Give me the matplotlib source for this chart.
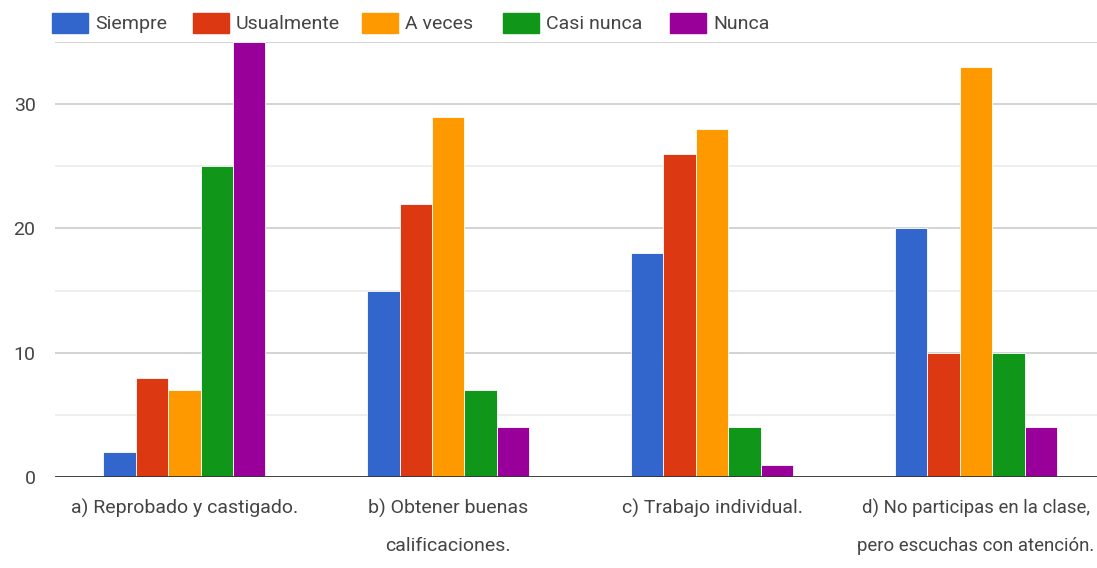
import numpy as np
import matplotlib
matplotlib.use("Agg")
import matplotlib.pyplot as plt
from matplotlib import font_manager
from matplotlib.patches import Rectangle

names = {f.name for f in font_manager.fontManager.ttflist}
font = "Liberation Sans Narrow" if "Liberation Sans Narrow" in names else "Roboto"
plt.rcParams["font.family"] = [font, "DejaVu Sans"]

categories = ["a) Reprobado y castigado.", "b) Obtener buenas\ncalificaciones.",
              "c) Trabajo individual.", "d) No participas en la clase,\npero escuchas con atención."]
series = ["Siempre", "Usualmente", "A veces", "Casi nunca", "Nunca"]
siempre = [2, 15, 18, 20]
usualmente = [8, 22, 26, 10]
a_veces = [7, 29, 28, 33]
casi_nunca = [25, 7, 4, 10]
nunca = [35, 4, 1, 4]
values = [siempre, usualmente, a_veces, casi_nunca, nunca]
colors = ["#3366cc", "#dc3912", "#ff9900", "#109618", "#990099"]

fig = plt.figure(figsize=(10.97, 5.68), dpi=100)
ax = fig.add_axes([55 / 1097, 91 / 568, 1053 / 1097, 435 / 568])

x = np.arange(len(categories))
w = 0.123
for i, (vals, c) in enumerate(zip(values, colors)):
    ax.bar(x + (i - 2) * w, vals, w, color=c, edgecolor="white", linewidth=0.6, zorder=3)

ax.set_xlim(-0.49, 3.5)
ax.set_ylim(0, 35)
ax.set_yticks([0, 10, 20, 30])
ax.set_yticks([5, 15, 25], minor=True)
ax.grid(axis="y", which="major", color="#cccccc", linewidth=1.2, zorder=0)
ax.grid(axis="y", which="minor", color="#ebebeb", linewidth=1.2, zorder=0)
ax.axhline(35, color="#cccccc", linewidth=1.2, zorder=0)
ax.axhline(0, color="#333333", linewidth=2, zorder=4)
for s in ax.spines.values():
    s.set_visible(False)
ax.tick_params(axis="both", which="both", length=0, labelsize=14, labelcolor="#444444")
ax.tick_params(axis="y", pad=14)
ax.tick_params(axis="x", pad=16)
ax.set_xticks(x)
ax.set_xticklabels(categories, linespacing=2.3)
# last label sits right at the edge, shrink a touch so it fits
ax.get_xticklabels()[-1].set_fontsize(13.4)

# legend along the top
box_x = [52, 193, 362, 503, 670]
for bx, name, c in zip(box_x, series, colors):
    fig.patches.append(Rectangle((bx / 1097, 1 - 33 / 568), 36 / 1097, 20 / 568,
                                 transform=fig.transFigure, color=c))
    fig.text((bx + 43) / 1097, 1 - 24 / 568, name, fontsize=14, color="#444444", va="center")

fig.savefig("out.png", dpi=100)
